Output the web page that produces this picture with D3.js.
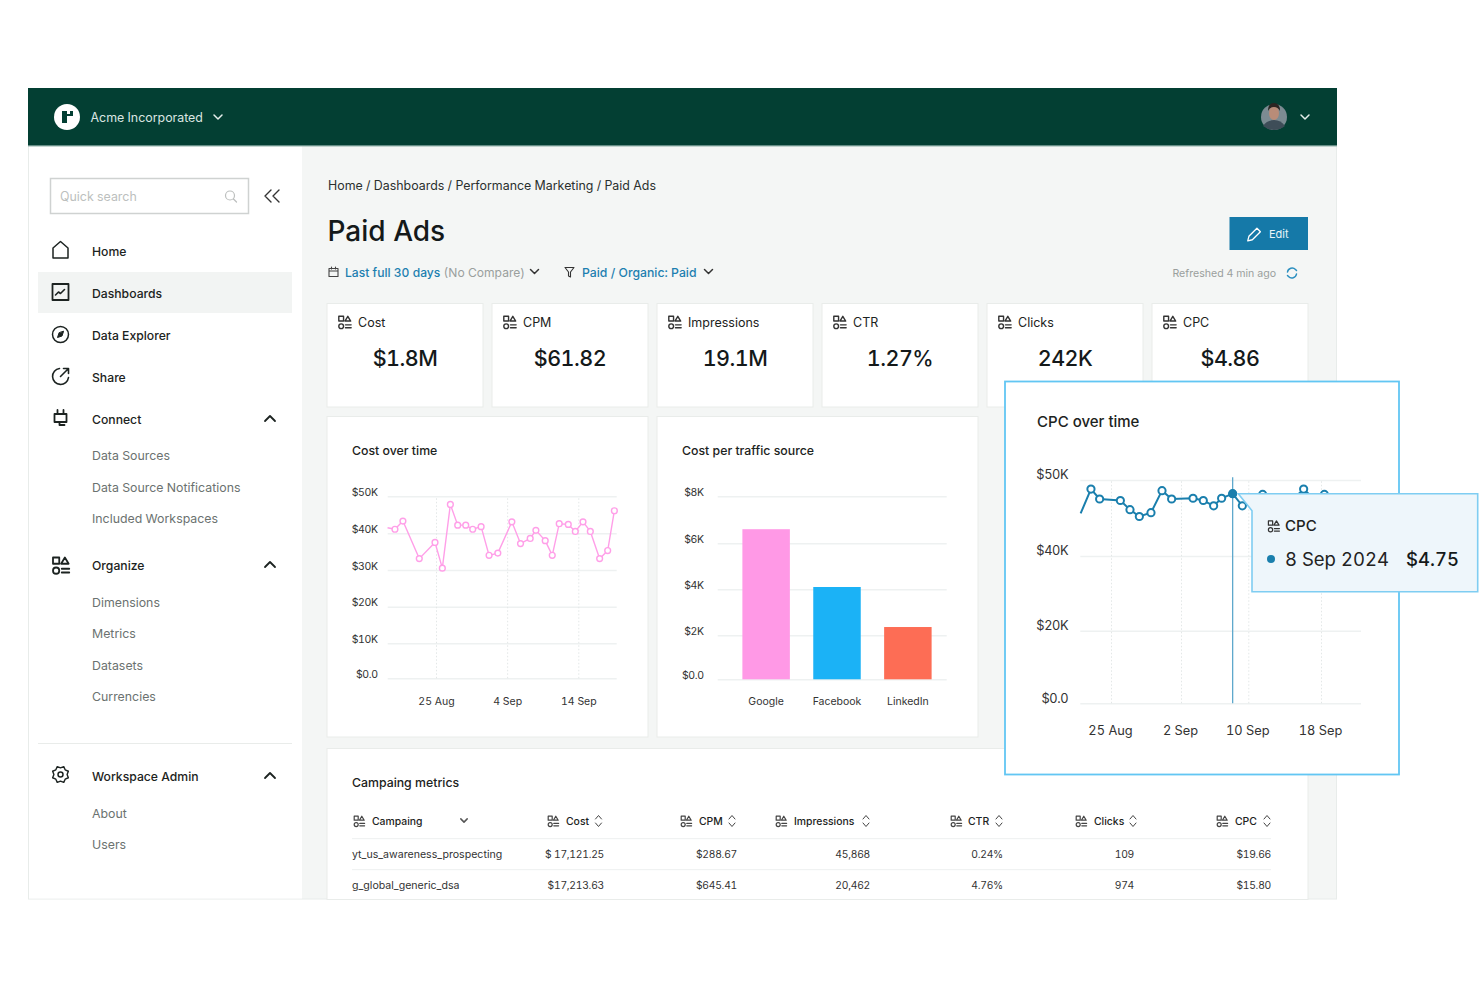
<!DOCTYPE html>
<html>
<head>
<meta charset="utf-8">
<script src="https://cdn.jsdelivr.net/npm/d3@7"></script>
<style>
  html, body { margin: 0; padding: 0; background: #fff; }
  svg { display: block; }
  text { font-family: Inter, "Noto Sans", sans-serif; font-feature-settings: "tnum" 1; }
</style>
</head>
<body>
<svg id="page" width="1480" height="987"></svg>
<script>
/* chart values */
var costDays = [-6.81, -5.77, -4.65, -2.35, -0.14, 0.89, 2.02, 3.05, 4.18, 5.16, 6.34, 7.46, 8.69, 10.66, 11.88, 13.24, 14.04, 15.35, 16.34, 17.32, 18.59, 19.58, 20.66, 21.69, 23.0, 24.13, 25.07];
var costValues = [41.5, 41.1, 43.3, 33.1, 37.5, 30.5, 47.8, 42.2, 42.2, 41.1, 41.8, 34.0, 34.6, 43.1, 37.2, 38.6, 40.8, 38.0, 34.0, 42.6, 42.4, 40.5, 43.1, 40.5, 33.1, 35.3, 46.1];
var costYTicks = [0, 10, 20, 30, 40, 50];
var costYLabels = ["$0.0", "$10K", "$20K", "$30K", "$40K", "$50K"];
var costXTicks = [0, 10, 20];
var costXLabels = ["25 Aug", "4 Sep", "14 Sep"];

var barSources = ["Google", "Facebook", "LinkedIn"];
var barValues = [6.6, 4.1, 2.36];
var barColors = ["#ff99e6", "#1bb2f6", "#fd6d55"];
var barYTicks = [0, 2, 4, 6, 8];
var barYLabels = ["$0.0", "$2K", "$4K", "$6K", "$8K"];

var cpcDays = [-3.47, -2.29, -1.3, 1.07, 2.17, 3.24, 4.57, 5.83, 6.93, 9.43, 10.65, 11.88, 12.83, 14.14, 15.29, 16.48, 17.58, 18.75, 19.85, 20.95, 22.09, 23.15, 24.37, 25.2];
var cpcValues = [45.6, 48.8, 47.5, 47.3, 46.1, 45.2, 45.7, 48.6, 47.5, 47.6, 47.3, 46.6, 47.6, 48.2, 46.6, 47.1, 48.1, 47.4, 46.9, 47.5, 48.8, 47.6, 48.1, 47.4];
var cpcYTicks = [0, 20, 40, 50];
var cpcYLabels = ["$0.0", "$20K", "$40K", "$50K"];
var cpcXTicks = [0, 8, 16, 24];
var cpcXLabels = ["25 Aug", "2 Sep", "10 Sep", "18 Sep"];
var cpcHoverDay = 14.14;

var kpiNames = ["Cost", "CPM", "Impressions", "CTR", "Clicks", "CPC"];
var kpiValues = ["$1.8M", "$61.82", "19.1M", "1.27%", "242K", "$4.86"];

var tableColumns = ["Campaing", "Cost", "CPM", "Impressions", "CTR", "Clicks", "CPC"];
var tableRow1 = ["yt_us_awareness_prospecting", "$ 17,121.25", "$288.67", "45,868", "0.24%", "109", "$19.66"];
var tableRow2 = ["g_global_generic_dsa", "$17,213.63", "$645.41", "20,462", "4.76%", "974", "$15.80"];

var navMain = ["Home", "Dashboards", "Data Explorer", "Share", "Connect", "Organize", "Workspace Admin"];
var navSub = ["Data Sources", "Data Source Notifications", "Included Workspaces", "Dimensions", "Metrics", "Datasets", "Currencies", "About", "Users"];

var svg = d3.select("#page");
var INK = "#1c2321", GREY = "#6b7270", GRID = "#eef1f1", BLUE = "#1a7fad";

function label(parent, x, y, str, size, fill, weight, anchor) {
  return parent.append("text")
    .attr("x", x)
    .attr("y", y)
    .attr("dy", "0.36em")
    .attr("font-size", size)
    .attr("font-weight", weight || 400)
    .attr("fill", fill || INK)
    .attr("text-anchor", anchor || "start")
    .text(str);
}

function rect(parent, x, y, w, h, fill, stroke, sw) {
  return parent.append("rect")
    .attr("x", x).attr("y", y).attr("width", w).attr("height", h)
    .attr("fill", fill)
    .attr("stroke", stroke || "none")
    .attr("stroke-width", sw || 0);
}

function icon(x, y, scale, d, color, sw, fill) {
  return svg.append("path")
    .attr("transform", "translate(" + x + "," + y + ") scale(" + scale + ")")
    .attr("d", d)
    .attr("fill", fill || "none")
    .attr("stroke", color || INK)
    .attr("stroke-width", (sw || 1.5) / scale)
    .attr("stroke-linecap", "round")
    .attr("stroke-linejoin", "round");
}

/* small square / triangle / circle / lines glyph used for metrics */
function metricIcon(x, y, scale, color, sw) {
  var d = "M-6-6h5v5h-5z M3.5-6l3 5h-6z M1 3h6 M1 6h6 ";
  icon(x, y, scale, d, color || "#333", sw || 1.4);
  svg.append("circle")
    .attr("cx", x - 3.5 * scale).attr("cy", y + 4.5 * scale).attr("r", 2.5 * scale)
    .attr("fill", "none").attr("stroke", color || "#333").attr("stroke-width", sw || 1.4);
}

function chevronDown(x, y, color, scale) { icon(x, y, scale || 1, "M-4-2l4 4 4-4", color || INK, 1.5); }
function chevronUp(x, y) { icon(x, y, 1, "M-5 3l5-5 5 5", INK, 1.8); }
function sortIcon(x, y) { icon(x, y, 1, "M-3-2l3-3.5 3 3.5 M-3 2l3 3.5 3-3.5", "#444", 1); }

/* app frame */
rect(svg, 28.5, 100, 1308, 799, "#f4f6f5", "#e8ecea", 1);
rect(svg, 29, 146, 273, 752.5, "#fff");
rect(svg, 28, 88, 1309, 58, "#033f33");
rect(svg, 28, 145.3, 1309, 1.2, "#8fb0a8");

/* header */
svg.append("circle").attr("cx", 67).attr("cy", 117).attr("r", 13).attr("fill", "#fff");
svg.append("path").attr("d", "M62 111h5v3h3v-3h3v5h-6v7h-5z").attr("fill", "#033f33");
label(svg, 90.5, 117.5, "Acme Incorporated", 12.4, "#dbe6e2");
chevronDown(218, 117, "#e6efec");
svg.append("circle").attr("cx", 1274).attr("cy", 117).attr("r", 13).attr("fill", "#7c8b92");
svg.append("path").attr("d", "M1263 126q4-6 11-6t11 6q-5 4-11 4t-11-4z").attr("fill", "#3e4d58");
svg.append("ellipse").attr("cx", 1274).attr("cy", 113).attr("rx", 5).attr("ry", 7).attr("fill", "#b98c78");
svg.append("path").attr("d", "M1268 111q0-8 6-8t6 8q-2-4-6-4t-6 4z").attr("fill", "#2c2522");
chevronDown(1305, 117, "#e6efec");

/* sidebar */
rect(svg, 50.5, 178.5, 198, 35, "#fff", "#cfd2d1", 1.5);
label(svg, 60, 196.5, "Quick search", 12.4, "#bcbfbe");
svg.append("circle").attr("cx", 230).attr("cy", 195.5).attr("r", 4.5).attr("fill", "none").attr("stroke", "#bcbfbe").attr("stroke-width", 1.2);
icon(233.5, 199, 1, "M0 0l3 3", "#bcbfbe", 1.2);
icon(272, 196, 1, "M-1-6l-6 6 6 6 M7-6l-6 6 6 6", "#333", 1.4);

rect(svg, 38, 272, 254, 41, "#f2f4f3");

var mainY = [251.4, 293.4, 335.4, 377.4, 419.4, 565.4, 776.4];
navMain.forEach(function (name, i) {
  label(svg, 92, mainY[i], name, 12.2, INK, 500);
});
var subY = [455.6, 487.4, 518.7, 602.4, 633.7, 665.4, 696.7, 813.4, 844.4];
navSub.forEach(function (name, i) {
  label(svg, 92, subY[i], name, 12.35, GREY);
});
[418, 564, 775].forEach(function (y) { chevronUp(270, y); });
rect(svg, 38, 743, 254, 1, "#e9ecea");

icon(60.5, 250, 1, "M-7.5 8v-10l7.5-6.5 7.5 6.5v10z", INK, 1.5);
icon(60.5, 292, 1, "M-8-8h16v16h-16z", INK, 1.8);
icon(60.5, 292, 1, "M-5 3l3-3 2 1.5 4-4", INK, 1.6);
svg.append("circle").attr("cx", 60.5).attr("cy", 334.5).attr("r", 8).attr("fill", "none").attr("stroke", INK).attr("stroke-width", 1.5);
icon(60.5, 334.5, 1, "M3-3l-1.5 4.5-4.5 1.5 1.5-4.5z", INK, 1, INK);
icon(60.5, 376.5, 1, "M-1-8a8 8 0 1 0 9 9 M0 0l8-8 M3-8h5v5", INK, 1.6);
icon(60.5, 418, 1, "M-3-8v4 M3-8v4 M-6-4h12v8h-12z M-1 4v3h5", INK, 1.8);
metricIcon(60.5, 565, 1.25, INK, 1.8);
svg.append("circle").attr("cx", 60.5).attr("cy", 774.5).attr("r", 2.5).attr("fill", "none").attr("stroke", INK).attr("stroke-width", 1.5);
svg.append("path")
  .attr("d", d3.range(16).map(function (i) {
    var r = i % 2 ? 8.5 : 6.6;
    var a = i * Math.PI / 8;
    return (i ? "L" : "M") + (60.5 + r * Math.cos(a)) + " " + (774.5 + r * Math.sin(a));
  }).join("") + "Z")
  .attr("fill", "none").attr("stroke", INK).attr("stroke-width", 1.4).attr("stroke-linejoin", "round");

/* title area */
label(svg, 328, 185.7, "Home / Dashboards / Performance Marketing / Paid Ads", 12.4, "#2a302e");
label(svg, 327.5, 231, "Paid Ads", 28, "#14191a", 500);

rect(svg, 1229.5, 217, 78.5, 33, "#1579a8");
icon(1253.5, 234, 1.15, "M-5 6l1-4 7-7 3 3-7 7z", "#fff", 1.3);
label(svg, 1269, 234.5, "Edit", 11, "#e8f3f8");

icon(333.5, 272, 1, "M-4.5-3.5h9v8h-9z M-4.5-1h9 M-2-5v2 M2-5v2", "#444", 1.1);
var rangeText = svg.append("text").attr("x", 345).attr("y", 272.5).attr("dy", "0.36em").attr("font-size", 12.1);
rangeText.append("tspan").attr("fill", "#1d7fb0").attr("font-weight", 500).text("Last full 30 days");
rangeText.append("tspan").attr("fill", "#9a9f9d").text(" (No Compare)");
chevronDown(534.5, 271.5, "#333");
icon(569.5, 272, 1, "M-4.5-4.5h9l-3.5 4.5v5l-2-1v-4z", "#333", 1.1);
label(svg, 582, 272.5, "Paid / Organic: Paid", 12.25, "#1d7fb0", 500);
chevronDown(708.5, 271.5, "#333");
label(svg, 1276, 273, "Refreshed 4 min ago", 10.6, "#9a9f9d", 400, "end");
icon(1292, 273, 1, "M-4.5-1a4.7 4.7 0 0 1 8-2.5l1 1 M4.5 1a4.7 4.7 0 0 1-8 2.5l-1-1", "#2b8fc0", 1.5);

/* kpi cards */
kpiNames.forEach(function (name, i) {
  var x = 327 + i * 165;
  rect(svg, x, 303.5, 156, 103.5, "#fff", "#e9ecea", 1);
  metricIcon(x + 17.5, 322, 0.95, "#333");
  label(svg, x + 31, 322.3, name, 12.5, INK);
  label(svg, x + 78, 358, kpiValues[i], 21.5, "#14191a", 500, "middle").attr("letter-spacing", -0.5);
});

/* chart cards */
rect(svg, 327, 416.5, 321, 320.5, "#fff", "#e9ecea", 1);
rect(svg, 657, 416.5, 321, 320.5, "#fff", "#e9ecea", 1);
label(svg, 352, 450.5, "Cost over time", 12.3, INK, 500);
label(svg, 682, 450.5, "Cost per traffic source", 12.3, INK, 500);

function drawAxes(xScale, yScale, left, right, top, bottom, xTicks, xLabels, yTicks, yLabels, size, yGap, xBaseline) {
  var yAxis = d3.axisLeft(yScale)
    .tickValues(yTicks)
    .tickSize(-(right - left))
    .tickPadding(yGap)
    .tickFormat(function (d, i) { return yLabels[i]; });
  var yg = svg.append("g").attr("transform", "translate(" + left + ",0)").call(yAxis);
  yg.select(".domain").remove();
  yg.selectAll("line").attr("stroke", GRID).attr("stroke-width", 1.4);
  yg.selectAll("text")
    .attr("font-size", size)
    .attr("font-family", "Inter")
    .attr("letter-spacing", -0.35)
    .attr("fill", "#333")
    .attr("dy", "-0.08em");

  if (!xTicks) return null;
  var xAxis = d3.axisBottom(xScale)
    .tickValues(xTicks)
    .tickSize(-(bottom - top))
    .tickPadding(xBaseline)
    .tickFormat(function (d, i) { return xLabels[i]; });
  var xg = svg.append("g").attr("transform", "translate(0," + bottom + ")").call(xAxis);
  xg.select(".domain").remove();
  xg.selectAll("line").attr("stroke", "#e3e7e7").attr("stroke-dasharray", "1.5 2");
  xg.selectAll("text")
    .attr("font-size", size)
    .attr("font-family", "Inter")
    .attr("fill", "#333");
  return xg;
}

function drawLine(xScale, yScale, days, values, color, width, radius) {
  var line = d3.line()
    .x(function (d, i) { return xScale(days[i]); })
    .y(function (d) { return yScale(d); });
  svg.append("path")
    .attr("d", line(values))
    .attr("fill", "none")
    .attr("stroke", color)
    .attr("stroke-width", width);
  svg.selectAll(null)
    .data(values.slice(1))
    .enter()
    .append("circle")
    .attr("cx", function (d, i) { return xScale(days[i + 1]); })
    .attr("cy", function (d) { return yScale(d); })
    .attr("r", radius)
    .attr("fill", "#fff")
    .attr("stroke", color)
    .attr("stroke-width", width);
}

/* cost over time */
var costX = d3.scaleLinear().domain([0, 20]).range([436, 578.3]);
var costY = d3.scaleLinear().domain(costYTicks).range([678.3, 643.3, 606.7, 570, 533.3, 496.3]);
drawAxes(costX, costY, 387.7, 616.7, 496.3, 678.3, costXTicks, costXLabels, costYTicks, costYLabels, 10.5, 10, 19);
drawLine(costX, costY, costDays, costValues, "#ff9fe8", 1.4, 2.9);

/* cost per traffic source */
var barX = d3.scaleBand().domain(barSources).range([719, 955]).paddingInner(0.33).paddingOuter(0.33);
var barY = d3.scaleLinear().domain(barYTicks).range([679.3, 635.3, 589.3, 543.3, 496.3]);
drawAxes(null, barY, 717.7, 946.7, 496.3, 679.3, null, null, barYTicks, barYLabels, 10.5, 14, 0);
svg.selectAll(null)
  .data(barValues)
  .enter()
  .append("rect")
  .attr("x", function (d, i) { return barX(barSources[i]); })
  .attr("y", function (d) { return barY(d); })
  .attr("width", barX.bandwidth())
  .attr("height", function (d) { return barY(0) - barY(d); })
  .attr("fill", function (d, i) { return barColors[i]; });
var barAxis = svg.append("g")
  .attr("transform", "translate(0,679.3)")
  .call(d3.axisBottom(barX).tickSize(0).tickPadding(18));
barAxis.select(".domain").remove();
barAxis.selectAll("text").attr("font-size", 10.5).attr("font-family", "Inter").attr("fill", "#333");

/* table */
rect(svg, 327, 748.5, 981, 151, "#fff", "#e9ecea", 1);
label(svg, 352, 782.5, "Campaing metrics", 12.3, INK, 500);
var headIconX = [359, 553, 686, 781, 956, 1081, 1222];
var headTextX = [372, 566, 699, 794, 968, 1094, 1235];
var sortX = [null, 598.5, 732, 866, 999, 1133, 1267];
var cellRight = [null, 604, 737, 870, 1003, 1134, 1271];
tableColumns.forEach(function (name, i) {
  metricIcon(headIconX[i], 821, 0.8, "#444", 1.2);
  label(svg, headTextX[i], 821.5, name, 10.4, INK, 500);
  if (sortX[i]) sortIcon(sortX[i], 821);
  [tableRow1, tableRow2].forEach(function (row, r) {
    var y = r ? 885.5 : 854.5;
    if (i === 0) label(svg, 352, y, row[0], 10.6, "#333");
    else label(svg, cellRight[i], y, row[i], 10.3, "#333", 400, "end").attr("letter-spacing", -0.25);
  });
});
chevronDown(464, 820.5, "#555", 0.8);
rect(svg, 352, 838, 919, 1.2, "#f0f2f2");
rect(svg, 352, 869, 919, 1.2, "#f0f2f2");

/* enlarged CPC card */
rect(svg, 1005, 381.5, 394, 393, "#fff", "#62c6f3", 1.8);
label(svg, 1037, 422, "CPC over time", 15, INK, 500);
var cpcX = d3.scaleLinear().domain(cpcXTicks).range([1111, 1181, 1248.3, 1321]);
var cpcY = d3.scaleLinear().domain(cpcYTicks).range([703.3, 630.7, 556, 480]);
var cpcXAxis = drawAxes(cpcX, cpcY, 1080.3, 1361, 480, 703.3, cpcXTicks, cpcXLabels, cpcYTicks, cpcYLabels, 12.8, 12, 23);
cpcXAxis.selectAll("text").attr("dx", -1);
svg.append("line")
  .attr("x1", cpcX(cpcHoverDay)).attr("x2", cpcX(cpcHoverDay))
  .attr("y1", 477.3).attr("y2", 703.3)
  .attr("stroke", "#5fa8cc").attr("stroke-width", 1.3);
drawLine(cpcX, cpcY, cpcDays, cpcValues, BLUE, 2, 3.6);
svg.append("circle")
  .attr("cx", cpcX(cpcHoverDay))
  .attr("cy", cpcY(cpcValues[cpcDays.indexOf(cpcHoverDay)]))
  .attr("r", 4.2)
  .attr("fill", BLUE);

/* tooltip */
svg.append("path")
  .attr("d", "M1238.3 493.7H1477.7V591.7H1252V510.7Z")
  .attr("fill", "#eef6fb")
  .attr("stroke", "#7fcdf2")
  .attr("stroke-width", 1.6);
metricIcon(1273.5, 526, 0.85, "#333", 1.2);
label(svg, 1285, 526, "CPC", 15, INK, 500);
svg.append("circle").attr("cx", 1271).attr("cy", 559).attr("r", 4).attr("fill", BLUE);
label(svg, 1285, 559.5, "8 Sep 2024", 18.5, "#222");
label(svg, 1459, 559.5, "$4.75", 18.5, "#14191a", 500, "end");
</script>
</body>
</html>
